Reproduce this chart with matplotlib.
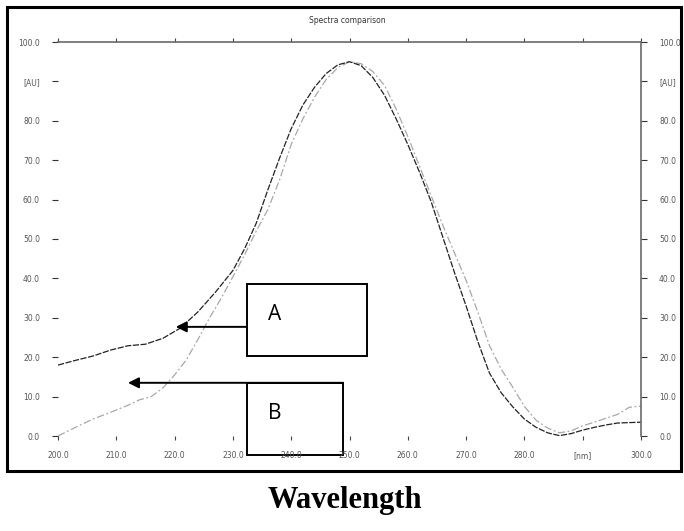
import matplotlib.pyplot as plt
from matplotlib.patches import Rectangle

# absorbance spectra (wavelength in nm, absorbance in AU)
wl_a = [200, 203, 206, 209, 212, 215, 218, 221, 224, 227, 230, 232, 234, 236,
        238, 240, 242, 244, 246, 248, 250, 252, 254, 256, 258, 260, 262, 264,
        266, 268, 270, 272, 274, 276, 278, 280, 282, 284, 286, 288, 290, 292,
        294, 296, 298, 300]
abs_a = [18.0, 19.2, 20.3, 21.8, 22.9, 23.3, 24.8, 27.4, 31.5, 36.5, 42.0,
         47.5, 54.0, 62.5, 70.5, 78.0, 84.0, 88.5, 92.0, 94.2, 95.0, 94.0,
         91.0, 86.5, 80.5, 74.0, 67.0, 59.5, 50.5, 41.5, 33.0, 24.0, 16.0,
         11.0, 7.4, 4.3, 2.2, 0.8, 0.1, 0.6, 1.5, 2.2, 2.8, 3.3, 3.4, 3.5]

wl_b = [200, 203, 206, 209, 212, 214, 216, 218, 220, 222, 224, 226, 228, 230,
        232, 234, 236, 238, 240, 242, 244, 246, 248, 250, 252, 254, 256, 258,
        260, 262, 264, 266, 268, 270, 272, 274, 276, 278, 280, 282, 284, 286,
        288, 290, 292, 294, 296, 298, 300]
abs_b = [0.0, 2.2, 4.3, 6.0, 7.8, 9.2, 10.0, 12.2, 15.5, 19.3, 24.5, 30.0,
         35.0, 40.4, 46.0, 52.0, 57.5, 65.0, 74.0, 80.5, 86.0, 90.5, 93.5,
         95.0, 94.5, 92.5, 89.0, 83.0, 76.0, 68.5, 61.0, 53.5, 46.5, 39.5,
         31.5, 23.0, 17.0, 12.4, 7.5, 4.0, 2.0, 0.8, 1.3, 2.6, 3.5, 4.5, 5.5,
         7.3, 7.6]

xticks = [200, 210, 220, 230, 240, 250, 260, 270, 280, 290, 300]
xlabels = ['200.0', '210.0', '220.0', '230.0', '240.0', '250.0', '260.0',
           '270.0', '280.0', '[nm]', '300.0']
yticks = [0, 10, 20, 30, 40, 50, 60, 70, 80, 90, 100]
ylabels = ['0.0', '10.0', '20.0', '30.0', '40.0', '50.0', '60.0', '70.0',
           '80.0', '[AU]', '100.0']

fig = plt.figure(figsize=(6.84, 5.31), dpi=100)
ax = fig.add_axes([58 / 684, 95 / 531, 583 / 684, 394 / 531])

ax.plot(wl_b, abs_b, color='#a8a8a8', lw=0.9, ls=(0, (6, 2, 1.5, 2)))
ax.plot(wl_a, abs_a, color='#222222', lw=0.9, ls=(0, (5, 1.2)))

ax.set_xlim(200, 300)
ax.set_ylim(0, 100)
ax.set_xticks(xticks, xlabels)
ax.set_yticks(yticks, ylabels)

for side in ['left', 'bottom']:
    ax.spines[side].set_visible(False)
for side in ['top', 'right']:
    ax.spines[side].set_color('#6a6a6a')
    ax.spines[side].set_linewidth(1.2)

ax.tick_params(axis='y', left=True, right=True, labelleft=True,
               labelright=True, length=4, width=0.8, color='#333333',
               labelsize=5.5, labelcolor='#555555', pad=9)
ax.tick_params(axis='x', bottom=True, top=True, length=3, width=0.8,
               color='#444444', labelsize=5.5, labelcolor='#555555', pad=8)

fig.text(0.508, 0.962, 'Spectra comparison', ha='center', va='center',
         fontsize=5.5, color='#333333')

# callout boxes with arrows pointing at each trace
box_kw = dict(fill=False, ec='black', lw=1.4, clip_on=False)
ax.add_patch(Rectangle((232.4, 20.3), 20.6, 18.3, **box_kw))
ax.add_patch(Rectangle((232.4, -4.8), 16.5, 18.3, **box_kw))
ax.annotate('', xy=(220.2, 27.7), xytext=(232.4, 27.7),
            arrowprops=dict(arrowstyle='-|>', color='black', lw=1.4,
                            mutation_scale=16, shrinkA=0, shrinkB=0),
            annotation_clip=False)
ax.annotate('', xy=(212.0, 13.5), xytext=(248.9, 13.5),
            arrowprops=dict(arrowstyle='-|>', color='black', lw=1.4,
                            mutation_scale=16, shrinkA=0, shrinkB=0),
            annotation_clip=False)
ax.text(237.2, 30.8, 'A', fontsize=15, family='Open Sans', ha='center',
        va='center')
ax.text(237.2, 5.8, 'B', fontsize=15, family='Open Sans', ha='center',
        va='center')

# outer frame around the plot panel
fig.add_artist(Rectangle((7 / 684, 60 / 531), 674 / 684, 464 / 531,
                         transform=fig.transFigure, fill=False,
                         ec='black', lw=2.2))

fig.text(0.505, 0.058, 'Wavelength', ha='center', va='center',
         fontsize=22, fontweight='bold', family='Liberation Serif')

fig.savefig('out.png', dpi=100)
